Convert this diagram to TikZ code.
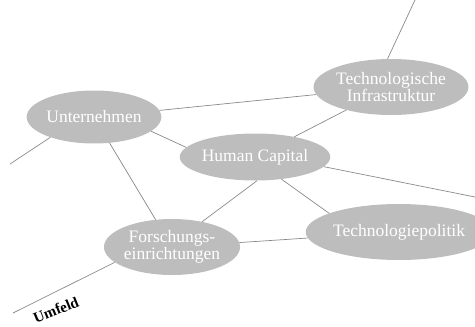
\documentclass[tikz,border=0pt]{standalone}
\usepackage{fontspec}
\setmainfont{Liberation Serif}
\usetikzlibrary{shapes.geometric}
\definecolor{blobfill}{HTML}{BDBDBD}
\definecolor{linkgray}{HTML}{8A8A8A}
\tikzset{
  blob/.style={ellipse, fill=blobfill, draw=none, inner sep=0pt, text=white,
    align=center, font=\fontsize{17.5}{17.5}\selectfont},
  link/.style={draw=linkgray, line width=0.7pt},
}
\begin{document}
\begin{tikzpicture}[x=1pt,y=-1pt]
  \useasboundingbox (0,0) rectangle (475,327);

  % actors
  \node[blob, minimum width=122pt, minimum height=53pt] (un) at (94,117) {Unternehmen};
  \node[blob, minimum width=130pt, minimum height=56pt] (ti) at (391,87) {Technologische\\Infrastruktur};
  \node[blob, minimum width=122pt, minimum height=47pt] (hc) at (255,157) {Human Capital};
  \node[blob, minimum width=123pt, minimum height=56pt] (fe) at (172,247) {Forschungs-\\einrichtungen};
  \node[blob, minimum width=150pt, minimum height=56pt] (tp) at (399,232) {Technologiepolitik};

  % open ends towards the surroundings
  \coordinate (top) at (415,0);
  \coordinate (left) at (10,164);
  \coordinate (right) at (475,197);
  \coordinate (botleft) at (13,313);

  % relations
  \draw[link] (ti.97) -- (top);
  \draw[link] (un) -- (ti);
  \draw[link] (ti) -- (hc);
  \draw[link] (un.-14) -- (hc.172);
  \draw[link] (un.205) -- (left);
  \draw[link] (un) -- (fe);
  \draw[link] (hc.-85) -- (fe.40);
  \draw[link] (hc.-40) -- (tp.165);
  \draw[link] (hc.-8) -- (right);
  \draw[link] (fe) -- (tp);
  \draw[link] (fe.195) -- (botleft);

  \node[rotate=22, inner sep=0pt, font=\fontsize{15}{15}\selectfont\bfseries] (umfeld) at (56,310) {Umfeld};
\end{tikzpicture}
\end{document}
